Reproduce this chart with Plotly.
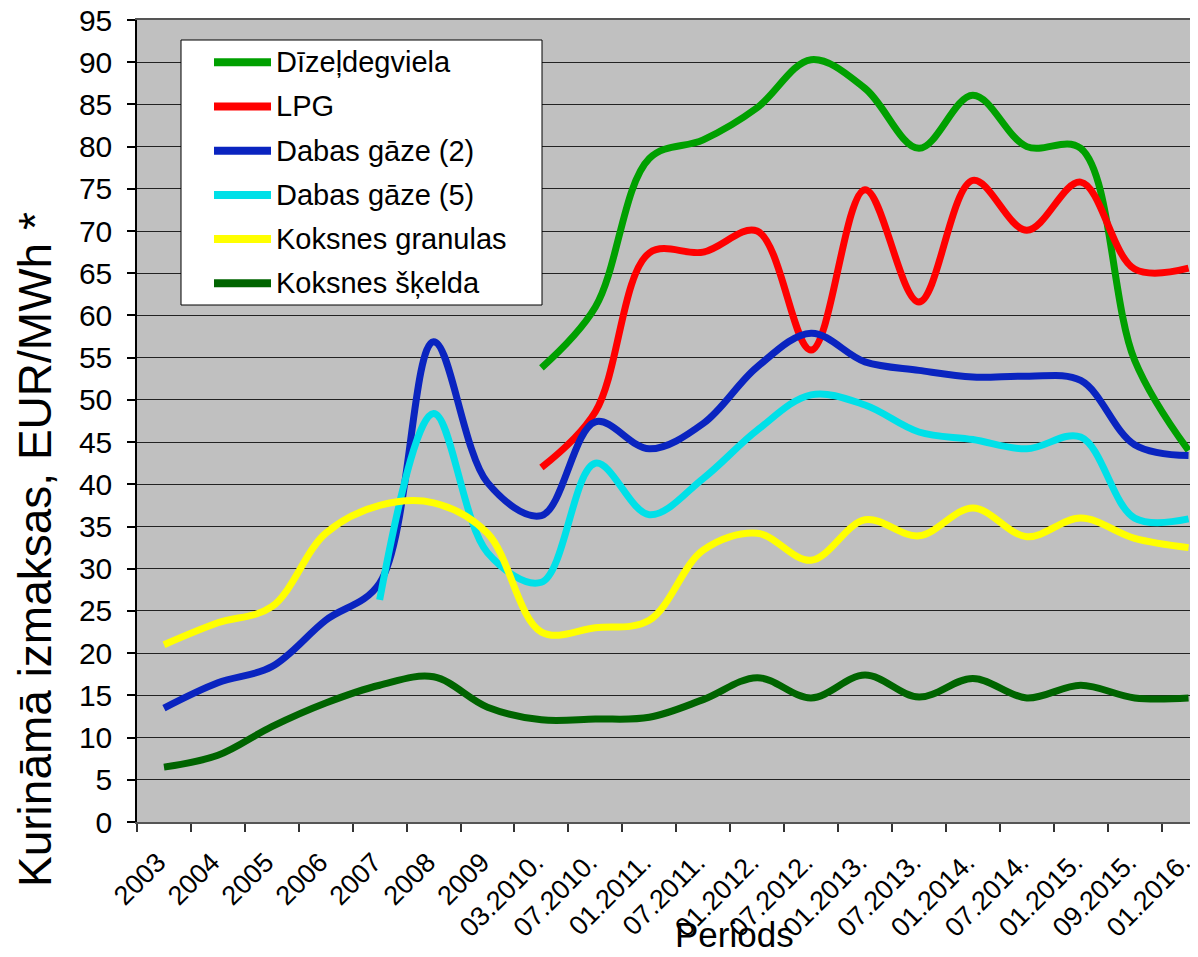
import plotly.graph_objects as go

categories = ["2003", "2004", "2005", "2006", "2007", "2008", "2009",
              "03.2010.", "07.2010.", "01.2011.", "07.2011.", "01.2012.",
              "07.2012.", "01.2013.", "07.2013.", "01.2014.", "07.2014.",
              "01.2015.", "09.2015.", "01.2016."]

dizeldegviela = [None, None, None, None, None, None, None,
                 53.8, 61.0, 78.6, 80.8, 84.6, 90.3, 86.9, 79.8, 86.1, 80.0, 79.8, 54.7, 44.0]
lpg = [None, None, None, None, None, None, None,
       42.0, 48.6, 67.4, 67.5, 70.0, 55.9, 74.9, 61.6, 76.0, 70.1, 75.8, 65.5, 65.6]
dabas_gaze_2 = [13.5, 16.5, 18.4, 23.9, 28.3, 56.9, 40.2, 36.3, 47.4, 44.2, 47.2, 53.9,
                57.9, 54.5, 53.5, 52.7, 52.8, 52.3, 44.7, 43.4]
dabas_gaze_5 = [None, None, None, None, 26.3, 48.4, 31.9, 28.4, 42.5, 36.4, 40.7, 46.4,
                50.6, 49.4, 46.2, 45.3, 44.2, 45.6, 36.0, 35.9]
koksnes_granulas = [21.0, 23.6, 25.5, 34.2, 37.5, 37.8, 34.2, 22.5, 23.0, 23.9, 32.2, 34.2,
                    31.0, 35.8, 33.9, 37.2, 33.8, 36.0, 33.6, 32.5]
koksnes_skelda = [6.5, 7.9, 11.3, 14.1, 16.2, 17.2, 13.6, 12.1, 12.2, 12.4, 14.5, 17.1,
                  14.7, 17.4, 14.8, 17.0, 14.7, 16.2, 14.7, 14.7]

series_names = ["Dīzeļdegviela", "LPG", "Dabas gāze (2)", "Dabas gāze (5)",
                "Koksnes granulas", "Koksnes šķelda"]
series_values = [dizeldegviela, lpg, dabas_gaze_2, dabas_gaze_5,
                 koksnes_granulas, koksnes_skelda]
series_colors = ["#00A000", "#FF0000", "#0A24C0", "#00E0E8", "#FFFF00", "#006400"]

y_ticks = list(range(0, 100, 5))

FONT = "Liberation Sans, Arial, sans-serif"

# page is rendered with an 8px body margin; plot area in page pixels
PAGE_OFF = 8
PL, PT, PR, PB = 137, 20, 1198, 822
FIG_W, FIG_H = 1198 - PAGE_OFF, 957 - PAGE_OFF


def px(x):
    return (x - PL) / (PR - PL)


def py(y):
    return (PB - y) / (PB - PT)


fig = go.Figure()
for name, vals, color in zip(series_names, series_values, series_colors):
    fig.add_trace(go.Scatter(
        x=categories, y=vals, name=name, mode="lines",
        line=dict(color=color, width=7, shape="spline", smoothing=1.0),
        showlegend=False,
    ))

# legend box drawn as decoration (Excel-style legend)
shapes = [dict(type="rect", xref="paper", yref="paper",
               x0=px(181), x1=px(542), y0=py(305), y1=py(40),
               line=dict(color="black", width=1), fillcolor="white", layer="above")]
annotations = []
row_y0, row_step = 62.3, 44.2
for i, (name, color) in enumerate(zip(series_names, series_colors)):
    yy = row_y0 + i * row_step
    shapes.append(dict(type="line", xref="paper", yref="paper",
                       x0=px(214), x1=px(271), y0=py(yy), y1=py(yy),
                       line=dict(color=color, width=8), layer="above"))
    annotations.append(dict(text=name, xref="paper", yref="paper",
                            x=px(274), y=py(yy), xanchor="left", yanchor="middle",
                            showarrow=False,
                            font=dict(size=29, family=FONT, color="black")))

annotations += [
    dict(text="Kurināmā izmaksas, EUR/MWh *", xref="paper", yref="paper",
         x=px(35), y=py(550), xanchor="center", yanchor="middle",
         textangle=-90, showarrow=False,
         font=dict(size=46, family=FONT, color="black")),
    dict(text="Periods", xref="paper", yref="paper",
         x=px(734), y=py(956),
         xanchor="center", yanchor="bottom", showarrow=False,
         font=dict(size=35, family=FONT, color="black")),
]

fig.update_layout(
    width=FIG_W, height=FIG_H,
    margin=dict(l=PL - PAGE_OFF, r=0, t=PT - PAGE_OFF, b=FIG_H - (PB - PAGE_OFF)),
    paper_bgcolor="white",
    plot_bgcolor="#C0C0C0",
    font=dict(family=FONT, color="black"),
    showlegend=False,
    shapes=shapes,
    annotations=annotations,
)

fig.update_xaxes(
    type="category", categoryorder="array", categoryarray=categories,
    range=[-0.5, -0.5 + (PR - PL - 0.5) / 53.9],
    tickangle=-45, tickfont=dict(size=27, family=FONT, color="black"),
    ticks="outside", ticklen=8, tickcolor="#333333", tickwidth=1.5,
    tickson="boundaries", ticklabelstandoff=12, ticklabelshift=-6,
    showline=True, linecolor="#555555", linewidth=1.5, mirror=True,
    showgrid=False, zeroline=False, automargin=False,
)
fig.update_yaxes(
    range=[0, 95], tickvals=y_ticks,
    tickfont=dict(size=30, family=FONT, color="black"),
    ticks="outside", ticklen=8, tickcolor="black", tickwidth=1.5,
    ticklabelstandoff=9, ticklabeloverflow="allow",
    showline=True, linecolor="black", linewidth=1.5,
    showgrid=True, gridcolor="#222222", gridwidth=1,
    zeroline=False, automargin=False,
)

fig.write_html("out.html")
